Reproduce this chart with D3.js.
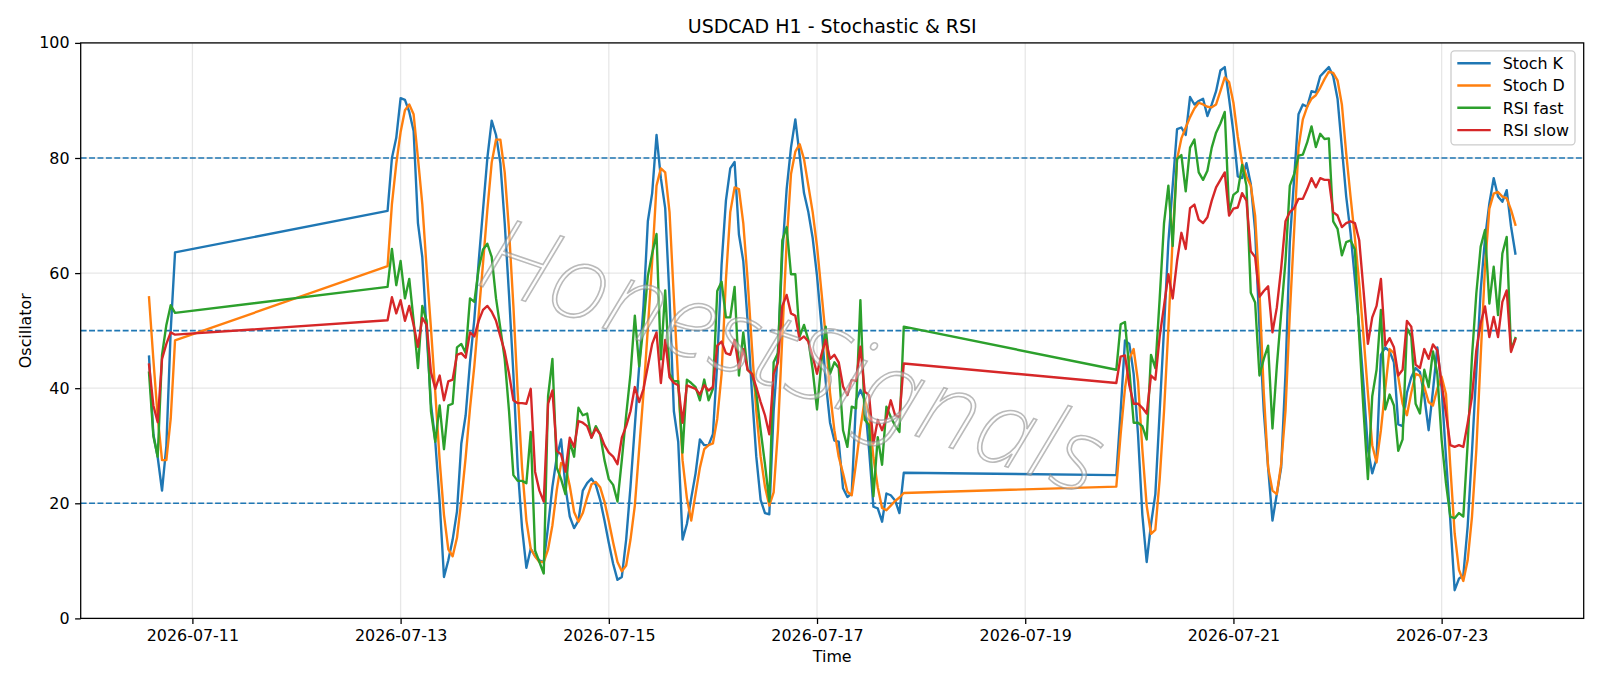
<!DOCTYPE html>
<html>
<head>
<meta charset="utf-8">
<script src="https://cdn.jsdelivr.net/npm/d3@7"></script>
<style>
  body { margin: 0; background: #fff; }
  text { font-family: "DejaVu Sans", sans-serif; }
</style>
</head>
<body>
<div id="chart"></div>
<script>
// trading sessions (hourly bars, UTC): start time and number of bars
var sessionStarts = ["2026-07-10T14:00", "2026-07-12T21:00", "2026-07-19T21:00"];
var sessionBars = [7, 120, 93];

var xTickLabels = ["2026-07-11", "2026-07-13", "2026-07-15", "2026-07-17", "2026-07-19", "2026-07-21", "2026-07-23"];
var yTicks = [0, 20, 40, 60, 80, 100];
var levels = [80, 50, 20];

var stochK = [
  45.5, 32, 28, 22.2, 30, 50, 63.6,
  70.8, 80, 83.5, 90.4, 90.1, 88, 84.7, 68.7, 62.8, 49.7,
  37.3, 30.7, 20.3, 7.2, 10.1, 13.7, 18.6, 30.4, 35.3, 44.5,
  52, 62, 71, 80, 86.5, 84, 79.1, 68.7, 56.2, 42.5,
  26.2, 15.7, 8.8, 12.1, 10.8, 10.1, 9.8, 16, 22.9, 28,
  31.1, 22.9, 17.7, 15.7, 17, 22.2, 23.5, 24.3, 23.2, 20.6,
  17, 13.1, 9.5, 6.7, 7.2, 13.7, 22.9, 33.4, 43.8, 54.3,
  69, 73.9, 84, 76.5, 71.3, 55.6, 36, 30.7, 13.7, 16.4,
  20.9, 25.2, 31.1, 30.1, 30.1, 32, 44.5, 61.5, 72.6, 78.2,
  79.3, 66.7, 62.1, 51.7, 39.2, 28.1, 20.6, 18.3, 18.1, 36,
  46.4, 63.4, 74.6, 81.8, 86.7, 80.4, 73.9, 70.6, 66.1, 59.5,
  51, 41.2, 34, 30.9, 30.7, 22.6, 21.1, 21.7, 37.9, 39.7,
  37.9, 29.3, 19.4, 19.1, 16.8, 21.7, 21.4, 20.5, 18.3, 25.3,
  24.9, 36, 48.3, 47.7, 42.5, 32, 18, 9.8, 16.4, 21.6,
  36, 50.4, 65.4, 75.2, 85, 85.3, 84, 90.6, 89.3, 89.9,
  90.3, 87.3, 89.3, 91.6, 95.2, 95.8, 90.3, 84.4, 76.8, 76.5,
  79.1, 75.5, 67.4, 50.4, 36, 26.2, 17, 21.6, 26.2, 42.5,
  65.4, 76.5, 87.6, 89.3, 88.9, 91.6, 91.4, 94.2, 95, 95.8,
  94.2, 90.3, 81.8, 73.3, 67, 58.9, 50.4, 40.5, 29.4, 25.2,
  27.8, 45.8, 47.1, 46.4, 44.5, 33.7, 33.4, 39.2, 41.9, 43.5,
  42.8, 38.6, 32.7, 39.6, 47.1, 40, 28, 17, 4.9, 6.9,
  7.5, 16, 29, 43, 57, 66, 72.1, 76.5, 73.3, 72.4,
  74.4, 68.1, 63.4
];

var stochD = [
  55.8, 45, 35, 27.5, 27.5, 34.7, 48.3,
  61.2, 72, 79, 84.5, 88.3, 89.3, 87.6, 80, 72, 60.8,
  50.4, 39.2, 27.5, 18, 12, 10.8, 14, 20.5, 28, 36.5,
  43.9, 52.8, 61.7, 71, 79.2, 83.2, 83.2, 77.5, 67.4, 54.3,
  39.2, 26.2, 17, 12.1, 10.8, 9.8, 9.8, 12, 16.2, 22.3,
  27, 26.5, 23, 18.5, 16.8, 18.3, 21, 23.3, 23.7, 22.8,
  20.3, 16.9, 13.2, 9.8, 8.2, 9.2, 13.7, 19.6, 29.4, 39.2,
  50.4, 62.1, 75.2, 78.2, 77.5, 70.6, 55.6, 41.2, 27.5, 20.9,
  17, 21.6, 26.2, 29.4, 30.1, 30.4, 34.7, 42.5, 58.9, 70.6,
  74.9, 74.6, 68.7, 58.9, 47.1, 36, 28.1, 22.9, 19.6, 21.9,
  32.7, 49, 65.4, 77.2, 81.1, 82.4, 79.8, 75.2, 70.6, 64.7,
  56.9, 49, 39.2, 32.7, 28.1, 25.2, 22, 21.4, 27, 33,
  38, 35.5, 28, 22.8, 19.2, 18.8, 19.6, 20.4, 21, 21.8,
  22.9, 32, 40, 45.1, 46.8, 41.2, 29.4, 19.6, 14.7, 15.4,
  24.2, 36, 50.4, 66.1, 79.8, 83.4, 85.3, 87.1, 88.6, 89.6,
  89.3, 88.9, 88.8, 89.3, 91.6, 94, 93.2, 89.6, 83.7, 79.1,
  76.8, 75.2, 70, 56.9, 39.2, 26.2, 22.2, 21.6, 26.8, 36,
  53, 67.4, 81.8, 86.7, 88.9, 90.3, 90.9, 92.2, 93.7, 95,
  94.8, 93.5, 89.3, 80.8, 73.3, 66.1, 58.2, 49, 39.2, 30.1,
  27.1, 32.7, 39.9, 46.8, 46.1, 41.9, 37.3, 35.3, 39.2, 42.5,
  42.2, 40.2, 37.6, 37, 39.9, 42, 39, 26.4, 14.8, 8.4,
  6.5, 10.1, 17.7, 29.3, 45.5, 61.1, 71.2, 73.8, 74.1, 73.3,
  73, 71, 68.4
];

var rsiFast = [
  42.7, 31.7, 28.1, 45.8, 51, 54.4, 53.1,
  57.6, 64.2, 57.9, 62.1, 55.6, 59, 51.7, 43.5, 54.3, 51.7,
  36, 30.7, 37, 29.4, 37, 37.3, 47.1, 47.7, 46.1, 55.6,
  55, 60.8, 64.1, 65.1, 62.8, 55.6, 50.4, 45.1, 36, 24.9,
  23.9, 23.9, 23.5, 32.4, 11.8, 9.8, 7.8, 38.6, 45.1, 26.2,
  24.2, 21.6, 30.7, 28.1, 36.6, 35.3, 35.6, 31.4, 33.4, 32,
  27.5, 24.2, 23.2, 20.3, 27.5, 35.3, 42.5, 52.6, 43.8, 51,
  59.5, 63.4, 66.8, 45, 57, 42.5, 41.2, 41.2, 28.8, 41.5,
  40.9, 40.2, 37.9, 41.5, 37.9, 39.9, 56.9, 58.5, 52.3, 52.3,
  57.6, 42.2, 49.7, 43.2, 42.5, 39.2, 32.7, 26.8, 20.3, 44.5,
  46.1, 65.7, 68, 59.8, 59.8, 49, 51, 48.4, 43.2, 36.3,
  44.5, 50.7, 42.5, 44.5, 43.5, 32.7, 29.8, 36.8, 36.5, 55.3,
  34.5, 33.6, 21.2, 31.5, 26.7, 36.8, 35, 33.5, 32.4, 50.7,
  43.2, 51.1, 51.5, 43.2, 34, 34, 33.4, 31.1, 45.8, 43.5,
  55.6, 68.7, 75.2, 64.7, 79.8, 80.5, 74.2, 81.8, 83.2, 77.5,
  76.2, 77.8, 81.8, 84.4, 86, 88, 70.6, 73.6, 74.2, 78.8,
  75.2, 56.6, 54.9, 42.2, 45.1, 47.4, 33, 43.8, 53, 62.1,
  75.2, 77.2, 80.4, 80.6, 82.7, 85.5, 81.9, 84.2, 83.3, 83.4,
  69, 67.7, 63.1, 65.4, 65.7, 64.1, 49, 36, 24.2, 38.6,
  43.2, 53.6, 36.3, 38.9, 37, 29.1, 31.1, 50.4, 49, 37.3,
  35.6, 43.2, 40.2, 46.4, 42.5, 31, 23.5, 17.7, 17.4, 18.3,
  17.7, 30.4, 45.5, 56.5, 64.6, 67.5, 54.7, 61.1, 52.7, 63.4,
  66.3, 46.6, 48.7
];

var rsiSlow = [
  44.1, 37, 34.1, 45.1, 47.7, 49.7, 49.3,
  51.8, 55.8, 53, 55.3, 51.7, 54.3, 51, 47.2, 52.2, 51,
  42.8, 39.9, 42.2, 37.9, 41.2, 41.5, 45.8, 46.1, 45.3, 49.7,
  49, 51.7, 53.6, 54.3, 53.3, 51.7, 49, 46.4, 42.5, 37.9,
  37.4, 37.4, 37.3, 39.9, 25.5, 22.2, 20.3, 37.3, 39.6, 29.1,
  28.5, 25.5, 31.4, 29.8, 34.3, 34, 33.4, 31.4, 33, 32,
  30.1, 28.8, 28.1, 26.8, 31.4, 33.4, 36, 40.2, 37.6, 39.9,
  43.8, 47.7, 49.7, 40.9, 48.4, 41.9, 40.9, 40.5, 34, 40.5,
  40.2, 39.9, 38.9, 40.5, 39.6, 40.2, 47.4, 48.1, 46.1, 45.8,
  48.4, 43.5, 46.8, 43.2, 42.5, 40.2, 37.6, 35.3, 32, 42.5,
  44.5, 54.3, 56.2, 53, 52.6, 48.4, 49, 48.1, 45.5, 42.5,
  45.8, 48.4, 45.1, 45.8, 44.5, 40.3, 38.8, 41.4, 41.3, 47.2,
  39.4, 38.8, 30.4, 34.5, 32.7, 34.8, 37.9, 35.3, 35, 44.3,
  40.9, 45.5, 45.7, 40.5, 37.3, 37.3, 36.6, 35.6, 42.2, 41.5,
  49, 54.3, 59.8, 55.6, 62.1, 67, 64.2, 71.3, 71.9, 69.3,
  68.7, 69.7, 72.6, 74.9, 76.2, 77.5, 70, 71.2, 71.4, 73.9,
  72.6, 63.8, 62.8, 55.9, 56.9, 57.7, 49.7, 54, 60.8, 69,
  70.6, 71.3, 72.9, 72.9, 74.6, 76.5, 74.9, 76.5, 76.2, 76.2,
  70.6, 70, 68, 68.7, 69, 68.7, 65.7, 56.9, 47.7, 52.3,
  54.3, 59, 47.4, 48.7, 47.1, 42.2, 43.2, 51.7, 50.7, 44.1,
  43.5, 46.8, 45.1, 47.6, 46.6, 40.8, 35.6, 30.1, 29.8, 30.1,
  29.8, 33.9, 38.5, 46.6, 51.3, 54.2, 48.9, 52.4, 48.9, 55,
  57, 46.3, 48.5
];

var seriesNames = ["Stoch K", "Stoch D", "RSI fast", "RSI slow"];
var seriesColors = ["#1f77b4", "#ff7f0e", "#2ca02c", "#d62728"];

var W = 1600, H = 686;
var margin = { top: 42.9, right: 16.3, bottom: 67.6, left: 80.7 };
var width = W - margin.left - margin.right,
  height = H - margin.top - margin.bottom;

var parseT = d3.utcParse("%Y-%m-%dT%H:%M");
var parseDay = d3.utcParse("%Y-%m-%d");

// hourly timestamps, one per bar
var times = [];
sessionStarts.forEach(function(s, i) {
  var t0 = parseT(s);
  d3.range(sessionBars[i]).forEach(function(h) {
    times.push(d3.utcHour.offset(t0, h));
  });
});

var series = [stochK, stochD, rsiFast, rsiSlow];

// matplotlib style 5% padding on x
var tMin = times[0], tMax = times[times.length - 1];
var pad = (tMax - tMin) * 0.05;
var x = d3.scaleUtc()
  .domain([new Date(+tMin - pad), new Date(+tMax + pad)])
  .range([0, width]);
var y = d3.scaleLinear().domain([0, 100]).range([height, 0]);

var svg = d3.select("#chart").append("svg")
  .attr("width", W)
  .attr("height", H);

var g = svg.append("g")
  .attr("transform", "translate(" + margin.left + "," + margin.top + ")");

var xTicks = xTickLabels.map(parseDay);

// grid
g.append("g").selectAll("line.vg")
  .data(xTicks).enter().append("line")
  .attr("x1", function(d) { return x(d); })
  .attr("x2", function(d) { return x(d); })
  .attr("y1", 0).attr("y2", height)
  .attr("stroke", "#b0b0b0").attr("stroke-opacity", 0.3).attr("stroke-width", 1.27);
g.append("g").selectAll("line.hg")
  .data(yTicks).enter().append("line")
  .attr("x1", 0).attr("x2", width)
  .attr("y1", function(d) { return y(d); })
  .attr("y2", function(d) { return y(d); })
  .attr("stroke", "#b0b0b0").attr("stroke-opacity", 0.3).attr("stroke-width", 1.27);

// reference levels
g.append("g").selectAll("line")
  .data(levels).enter().append("line")
  .attr("x1", 0).attr("x2", width)
  .attr("y1", function(d) { return y(d); })
  .attr("y2", function(d) { return y(d); })
  .attr("stroke", "#1f77b4").attr("stroke-width", 1.6)
  .attr("stroke-dasharray", "5.9,2.5");

// series lines
var line = d3.line()
  .x(function(d, i) { return x(times[i]); })
  .y(function(d) { return y(d); });

g.append("g").selectAll("path")
  .data(series).enter().append("path")
  .attr("d", line)
  .attr("fill", "none")
  .attr("stroke", function(d, i) { return seriesColors[i]; })
  .attr("stroke-width", 2.38)
  .attr("stroke-linejoin", "round")
  .attr("stroke-linecap", "square");

// watermark (thin outlined italic text)
g.append("text")
  .attr("transform", "translate(" + (x(parseT("2026-07-16T19:00"))) + "," + y(46.3) + ") rotate(19)")
  .attr("text-anchor", "middle")
  .attr("dominant-baseline", "central")
  .style("font-family", "'Noto Sans', 'DejaVu Sans', sans-serif")
  .attr("font-style", "italic")
  .attr("font-size", 103)
  .attr("font-weight", 200)
  .attr("letter-spacing", 2)
  .attr("fill", "#ffffff").attr("fill-opacity", 0.4)
  .attr("stroke", "#8c8c8c").attr("stroke-opacity", 0.6).attr("stroke-width", 1.6)
  .text("HonestSignals");

// axes
var xAxis = d3.axisBottom(x).tickValues(xTicks)
  .tickFormat(d3.utcFormat("%Y-%m-%d")).tickSize(5.6).tickPadding(5.6);
var yAxis = d3.axisLeft(y).tickValues(yTicks).tickSize(5.6).tickPadding(5.6);

var gx = g.append("g").attr("transform", "translate(0," + height + ")").call(xAxis);
var gy = g.append("g").call(yAxis);
[gx, gy].forEach(function(a) {
  a.select(".domain").remove();
  a.selectAll("line").attr("stroke", "#000").attr("stroke-width", 1.27);
  a.selectAll("text").attr("font-size", 15.9).attr("fill", "#000")
    .attr("font-family", "DejaVu Sans, sans-serif");
});

// frame
g.append("rect")
  .attr("width", width).attr("height", height)
  .attr("fill", "none").attr("stroke", "#000").attr("stroke-width", 1.27);

// labels
svg.append("text")
  .attr("x", margin.left + width / 2).attr("y", 33)
  .attr("text-anchor", "middle").attr("font-size", 19)
  .text("USDCAD H1 - Stochastic & RSI");
svg.append("text")
  .attr("x", margin.left + width / 2).attr("y", 661.5)
  .attr("text-anchor", "middle").attr("font-size", 15.9)
  .text("Time");
svg.append("text")
  .attr("transform", "translate(31," + (margin.top + height / 2) + ") rotate(-90)")
  .attr("text-anchor", "middle").attr("font-size", 15.9)
  .text("Oscillator");

// legend
var lg = svg.append("g").attr("transform", "translate(1451,50.8)");
lg.append("rect")
  .attr("width", 124).attr("height", 94).attr("rx", 3.5)
  .attr("fill", "#fff").attr("fill-opacity", 0.8)
  .attr("stroke", "#cccccc").attr("stroke-width", 1.27);
seriesNames.forEach(function(name, i) {
  var row = lg.append("g").attr("transform", "translate(0," + (12.4 + i * 22.3) + ")");
  row.append("line")
    .attr("x1", 6.3).attr("x2", 39.7)
    .attr("stroke", seriesColors[i]).attr("stroke-width", 2.38);
  row.append("text")
    .attr("x", 51.7).attr("y", 0).attr("dy", "0.36em")
    .attr("font-size", 15.9)
    .text(name);
});
</script>
</body>
</html>
